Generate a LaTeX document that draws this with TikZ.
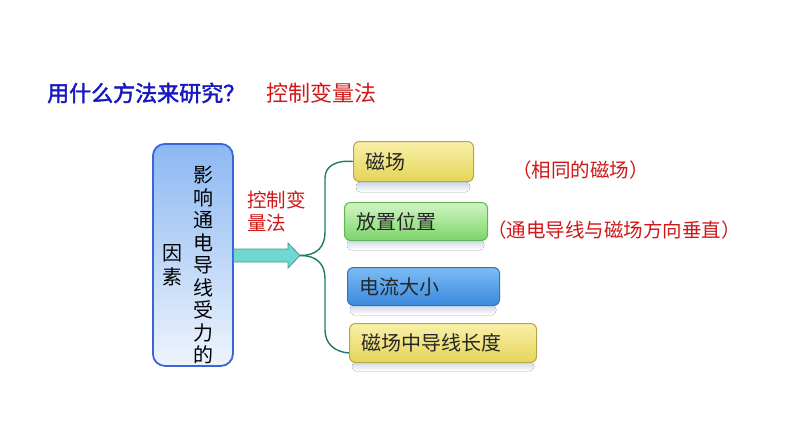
\documentclass[tikz,border=0pt]{standalone}
\usepackage{fontspec}
\newfontfamily\cjk{Noto Sans CJK SC}
\newfontfamily\cjkb[FakeBold=2]{Noto Sans CJK SC}
\usetikzlibrary{positioning}
\definecolor{titleblue}{HTML}{1818C0}
\definecolor{myred}{HTML}{D01818}
\definecolor{bracecol}{HTML}{1F7A6C}
\definecolor{arrowfill}{HTML}{70D8D0}
\definecolor{arrowdraw}{HTML}{3E9C98}
\definecolor{ytop}{HTML}{F8F0A8}
\definecolor{ybot}{HTML}{E6D45A}
\definecolor{ydraw}{HTML}{B8A640}
\definecolor{gtop}{HTML}{D2F5C4}
\definecolor{gbot}{HTML}{7CD46A}
\definecolor{gdraw}{HTML}{62B456}
\definecolor{btop}{HTML}{7CBCF4}
\definecolor{bbot}{HTML}{3A88DE}
\definecolor{bdraw}{HTML}{3470C0}
\definecolor{lbtop}{HTML}{8CB8F2}
\definecolor{lbbot}{HTML}{EEF4FD}
\definecolor{lbdraw}{HTML}{3A64D8}
\definecolor{refcol}{HTML}{CCD8E6}
\tikzset{
  base/.style={rounded corners=6pt, line width=1pt, anchor=north west, inner xsep=12pt,
    align=left, font=\cjk\fontsize{20}{24}\selectfont, text=black!85},
  ybox/.style={base, draw=ydraw, top color=ytop, bottom color=ybot},
  gbox/.style={base, draw=gdraw, top color=gtop, bottom color=gbot},
  bbox/.style={base, draw=bdraw, top color=btop, bottom color=bbot},
  refl/.style={rounded corners=4pt, top color=refcol, bottom color=white, draw=none},
  redtxt/.style={font=\cjk\fontsize{19.5}{23}\selectfont, text=myred, anchor=west, inner sep=0pt},
  brace/.style={draw=bracecol, line width=1.4pt},
}
\begin{document}
\begin{tikzpicture}[x=1pt,y=-1pt]
\useasboundingbox (0,0) rectangle (794,447);
\fill[white] (0,0) rectangle (794,447);
% title
\node[anchor=west, inner sep=0pt, text=titleblue, font=\cjkb\fontsize{22}{26}\selectfont] (t1) at (47,93) {用什么方法来研究？};
\node[anchor=west, inner sep=0pt, text=myred, font=\cjk\fontsize{22}{26}\selectfont] (t2) at (266,93) {控制变量法};
% left box
\node[draw=lbdraw, line width=1.8pt, rounded corners=12pt, top color=lbtop, bottom color=lbbot,
  minimum width=80pt, minimum height=222pt, anchor=north west, inner sep=0pt] (lb) at (152,143) {};
\node[align=center, font=\cjk\fontsize{20}{22.5}\selectfont, inner sep=0pt, anchor=north] (v1) at (203,166)
  {影\\响\\通\\电\\导\\线\\受\\力\\的};
\node[align=center, font=\cjk\fontsize{20}{24}\selectfont, inner sep=0pt] (v2) at (172,265) {因\\素};
% arrow
\draw[fill=arrowfill, draw=arrowdraw, line width=0.8pt] (lb.east |- 0,249) -- (288,249) -- (288,243) -- (300,255.5) -- (288,268) -- (288,262) -- (lb.east |- 0,262) -- cycle;
\coordinate (tip) at (300,255.5);
\node[align=left, font=\cjk\fontsize{19.5}{23}\selectfont, text=myred, inner sep=0pt, anchor=north west] (ctl) at (247,191) {控制变\\量法};
% boxes
\fill[refl] (356,182) rectangle (470,192);
\node[ybox, minimum width=120pt, minimum height=40pt, text width=96pt] (b1) at (353,141) {磁场};
\fill[refl] (347,240) rectangle (484,250);
\node[gbox, minimum width=143pt, minimum height=38pt, text width=119pt] (b2) at (344,202) {放置位置};
\fill[refl] (350,305) rectangle (496,315);
\node[bbox, minimum width=152pt, minimum height=38pt, text width=128pt] (b3) at (347,267) {电流大小};
\fill[refl] (352,362) rectangle (534,371);
\node[ybox, minimum width=187pt, minimum height=39pt, text width=163pt] (b4) at (349,323) {磁场中导线长度};
% brace
\draw[brace] (tip) .. controls (318,255.5) and (325,246) .. (325,232) -- (325,178)
  .. controls (325,166) and (336,160) .. (b1.west);
\draw[brace] (tip) .. controls (318,255.5) and (325,265) .. (325,279) -- (325,330)
  .. controls (325,344) and (335,352) .. ([yshift=-10pt]b4.west);
% annotations
\node[redtxt] (a1) at (512,170) {（相同的磁场）};
\node[redtxt] (a2) at (487,230) {（通电导线与磁场方向垂直）};
\end{tikzpicture}
\end{document}
